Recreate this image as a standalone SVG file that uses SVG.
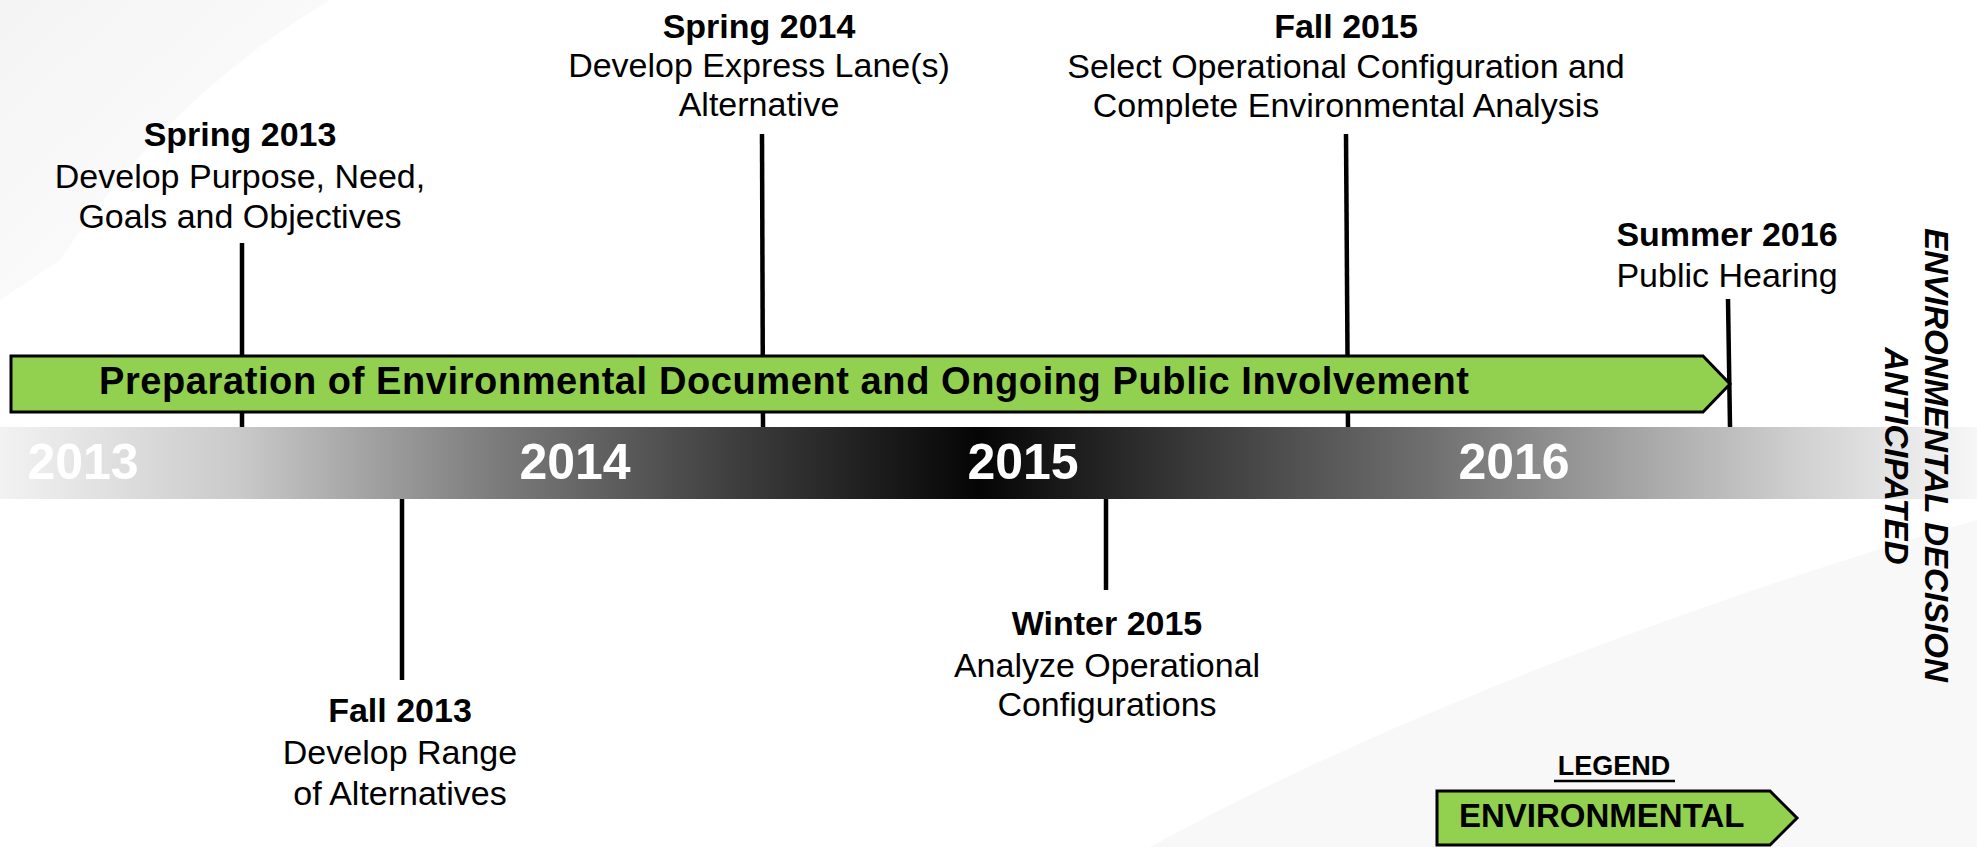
<svg xmlns="http://www.w3.org/2000/svg" width="1977" height="847" viewBox="0 0 1977 847">
  <defs>
    <linearGradient id="bandGrad" x1="0" y1="0" x2="1977" y2="0" gradientUnits="userSpaceOnUse">
      <stop offset="0" stop-color="#f2f2f2"/>
      <stop offset="0.12" stop-color="#cacaca"/>
      <stop offset="0.25" stop-color="#7c7c7c"/>
      <stop offset="0.38" stop-color="#3a3a3a"/>
      <stop offset="0.495" stop-color="#050505"/>
      <stop offset="0.6" stop-color="#383838"/>
      <stop offset="0.72" stop-color="#6e6e6e"/>
      <stop offset="0.81" stop-color="#9c9c9c"/>
      <stop offset="0.91" stop-color="#d0d0d0"/>
      <stop offset="1" stop-color="#f7f7f7"/>
    </linearGradient>
    <linearGradient id="swoosh" x1="0" y1="0" x2="1" y2="1">
      <stop offset="0" stop-color="#efefef"/>
      <stop offset="1" stop-color="#ffffff"/>
    </linearGradient>
  </defs>
  <style>
    text { font-family: "Liberation Sans", Arial, sans-serif; fill: #000; }
    .t { font-size: 34px; text-anchor: middle; }
    .b { font-weight: bold; }
    .year { font-size: 50px; font-weight: bold; fill: #fff; text-anchor: middle; }
    .tick { stroke: #000; stroke-width: 4.5; fill: none; }
    .green { fill: #92d050; stroke: #000; stroke-width: 3; stroke-linejoin: miter; }
    .vert { font-size: 33px; font-weight: bold; font-style: italic; text-anchor: middle; }
  </style>

  <rect x="0" y="0" width="1977" height="847" fill="#ffffff"/>
  <g id="background" opacity="0.7">
    <path d="M0,0 L330,0 C230,60 140,140 60,260 L0,300 Z" fill="url(#swoosh)"/>
    <path d="M1977,520 C1700,600 1380,720 1150,847 L1977,847 Z" fill="#f5f5f5"/>
  </g>

  <g id="connectors">
    <line class="tick" x1="242" y1="243" x2="242" y2="427"/>
    <line class="tick" x1="762" y1="134" x2="763" y2="427"/>
    <line class="tick" x1="1346" y1="134" x2="1348" y2="427"/>
    <line class="tick" x1="1728" y1="299" x2="1730" y2="427"/>
    <line class="tick" x1="402" y1="499" x2="402" y2="680"/>
    <line class="tick" x1="1106" y1="499" x2="1106" y2="590"/>
  </g>

  <g id="timeline-band">
    <rect x="0" y="427" width="1977" height="72" fill="url(#bandGrad)"/>
    <text class="year" x="83" y="479">2013</text>
    <text class="year" x="575" y="479">2014</text>
    <text class="year" x="1023" y="479">2015</text>
    <text class="year" x="1514" y="479">2016</text>
  </g>

  <g id="environmental-phase">
    <path class="green" d="M11,356 L1703,356 L1730,384 L1703,412 L11,412 Z"/>
    <text class="b" x="99" y="394" font-size="38" textLength="1370" lengthAdjust="spacing">Preparation of Environmental Document and Ongoing Public Involvement</text>
  </g>

  <g id="spring-2013">
    <text class="t b" x="240" y="146">Spring 2013</text>
    <text class="t" x="240" y="188">Develop Purpose, Need,</text>
    <text class="t" x="240" y="228">Goals and Objectives</text>
  </g>

  <g id="spring-2014">
    <text class="t b" x="759" y="38">Spring 2014</text>
    <text class="t" x="759" y="77">Develop Express Lane(s)</text>
    <text class="t" x="759" y="116">Alternative</text>
  </g>

  <g id="fall-2015">
    <text class="t b" x="1346" y="38">Fall 2015</text>
    <text class="t" x="1346" y="78">Select Operational Configuration and</text>
    <text class="t" x="1346" y="117">Complete Environmental Analysis</text>
  </g>

  <g id="summer-2016">
    <text class="t b" x="1727" y="246">Summer 2016</text>
    <text class="t" x="1727" y="287">Public Hearing</text>
  </g>

  <g id="fall-2013">
    <text class="t b" x="400" y="722">Fall 2013</text>
    <text class="t" x="400" y="764">Develop Range</text>
    <text class="t" x="400" y="805">of Alternatives</text>
  </g>

  <g id="winter-2015">
    <text class="t b" x="1107" y="635">Winter 2015</text>
    <text class="t" x="1107" y="677">Analyze Operational</text>
    <text class="t" x="1107" y="716">Configurations</text>
  </g>

  <g id="decision">
    <text class="vert" transform="translate(1925,455) rotate(90)">ENVIRONMENTAL DECISION</text>
    <text class="vert" transform="translate(1885,456) rotate(90)">ANTICIPATED</text>
  </g>

  <g id="legend">
    <text x="1614" y="775" font-size="27" font-weight="bold" text-anchor="middle">LEGEND</text>
    <line x1="1554" y1="781" x2="1675" y2="781" stroke="#000" stroke-width="2.5"/>
    <path class="green" d="M1437,791 L1770,791 L1797,818 L1770,845 L1437,845 Z"/>
    <text x="1459" y="827" font-size="33" font-weight="bold">ENVIRONMENTAL</text>
  </g>
</svg>
